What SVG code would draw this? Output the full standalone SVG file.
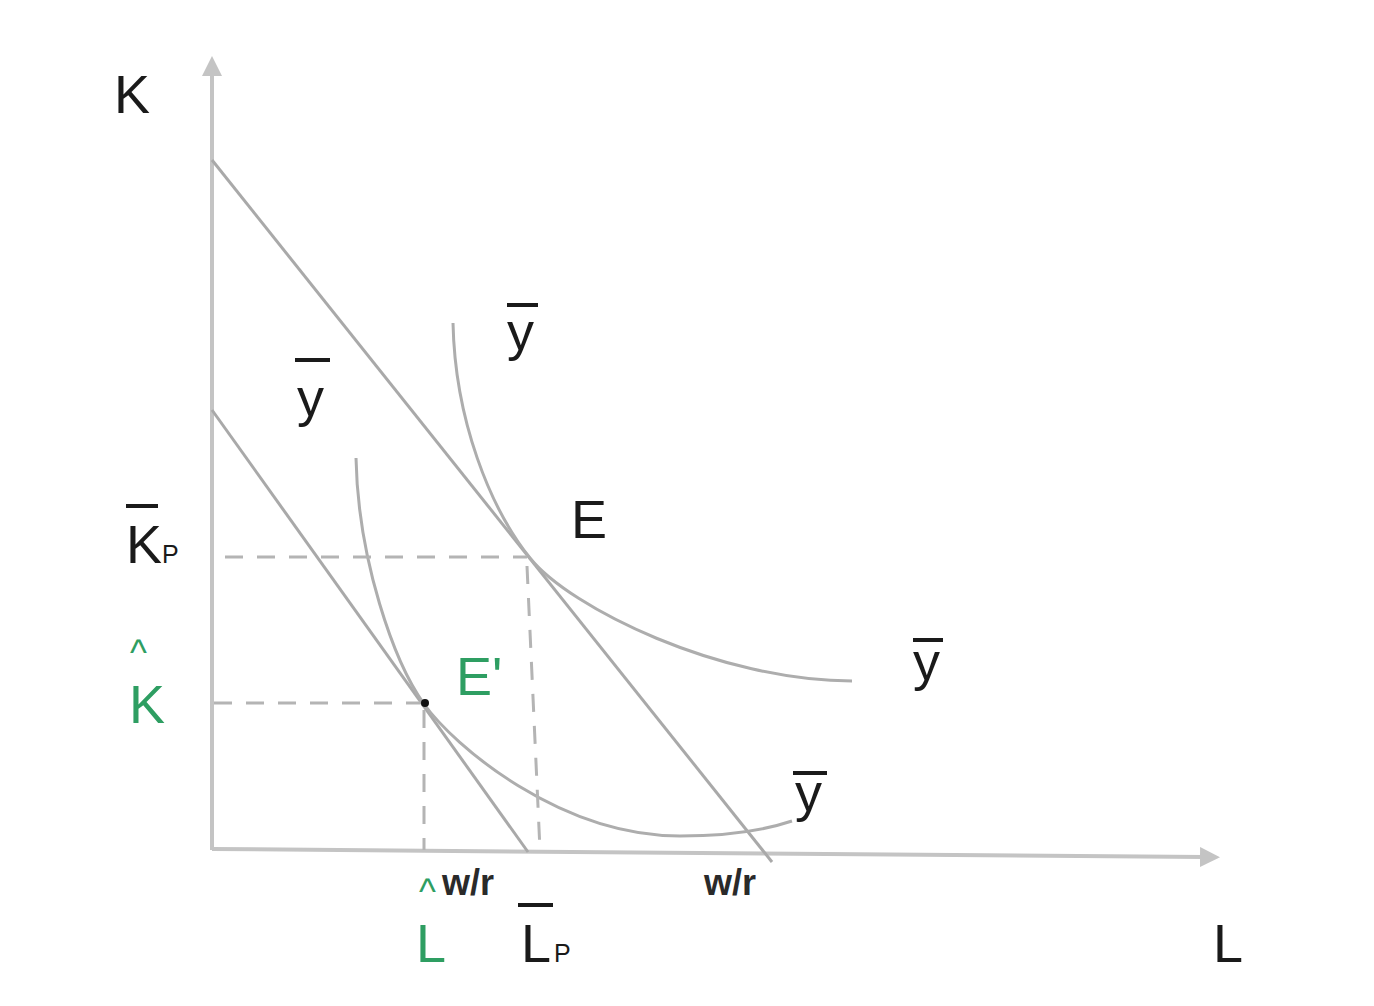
<svg xmlns="http://www.w3.org/2000/svg" width="1374" height="1006" viewBox="0 0 1374 1006">
<style>
.t{font-family:"Liberation Sans",Arial,sans-serif;fill:#1a1a1a;font-size:54px}
.g{fill:#2e9e62}
.s{font-size:25px}
.h{font-size:36px}
.w{font-size:36px;font-weight:bold;fill:#2a2a2a}
.bar{stroke:#1a1a1a;stroke-width:4}
.ax{stroke:#c4c4c4;stroke-width:4;fill:none}
.ln{stroke:#a9a9a9;stroke-width:3;fill:none}
.cv{stroke:#adadad;stroke-width:3;fill:none}
.ds{stroke:#b4b4b4;stroke-width:3;fill:none;stroke-dasharray:18 14}
</style>
<defs>
<marker id="arr" viewBox="0 0 10 10" refX="2" refY="5" markerWidth="5" markerHeight="5" markerUnits="strokeWidth" orient="auto">
<path d="M0,0 L10,5 L0,10 Z" fill="#c4c4c4"/>
</marker>
</defs>
<rect width="1374" height="1006" fill="#ffffff"/>
<g id="connectors">
<line class="ax" x1="212" y1="850" x2="212" y2="72" marker-end="url(#arr)"/>
<line class="ax" x1="212" y1="849" x2="1204" y2="857" marker-end="url(#arr)"/>
<line class="ln" x1="212" y1="160" x2="772" y2="862"/>
<line class="ln" x1="212" y1="410" x2="528" y2="852"/>
<path class="cv" d="M453,323 C455,420 490,508 530,558 C570,608 720,681 852,681"/>
<path class="cv" d="M356,458 C358,560 394,662 424,704 C454,746 560,836 680,836 C730,836 765,830 792,821"/>
<line class="ds" x1="225" y1="557" x2="527" y2="557"/>
<line class="ds" x1="527" y1="566" x2="540" y2="850"/>
<line class="ds" x1="214" y1="703" x2="420" y2="703"/>
<line class="ds" x1="424" y1="710" x2="424" y2="850"/>
</g>
<g id="E-prime-point"><circle cx="425" cy="703" r="4" fill="#111"/></g>
<g id="label-K"><text class="t" x="114" y="113">K</text></g>
<g id="label-KP"><line class="bar" x1="126" y1="506" x2="158" y2="506"/><text class="t" x="126" y="563">K</text><text class="t s" x="162" y="563">P</text></g>
<g id="label-Khat"><text class="t g h" x="130" y="665">^</text><text class="t g" x="129" y="723">K</text></g>
<g id="label-E"><text class="t" x="571" y="538">E</text></g>
<g id="label-Eprime"><text class="t g" x="456" y="695">E'</text></g>
<g id="label-y1"><line class="bar" x1="295" y1="360" x2="330" y2="360"/><text class="t" x="297" y="416">y</text></g>
<g id="label-y2"><line class="bar" x1="507" y1="305" x2="538" y2="305"/><text class="t" x="507" y="350">y</text></g>
<g id="label-y3"><line class="bar" x1="913" y1="640" x2="943" y2="640"/><text class="t" x="913" y="680">y</text></g>
<g id="label-y4"><line class="bar" x1="793" y1="773" x2="827" y2="773"/><text class="t" x="795" y="811">y</text></g>
<g id="label-wr1"><text class="t w" x="442" y="895">w/r</text></g>
<g id="label-wr2"><text class="t w" x="704" y="895">w/r</text></g>
<g id="label-Lhat"><text class="t g h" x="419" y="904">^</text><text class="t g" x="416" y="962">L</text></g>
<g id="label-LP"><line class="bar" x1="518" y1="905" x2="553" y2="905"/><text class="t" x="521" y="962">L</text><text class="t s" x="554" y="962">P</text></g>
<g id="label-L"><text class="t" x="1213" y="962">L</text></g>
</svg>
